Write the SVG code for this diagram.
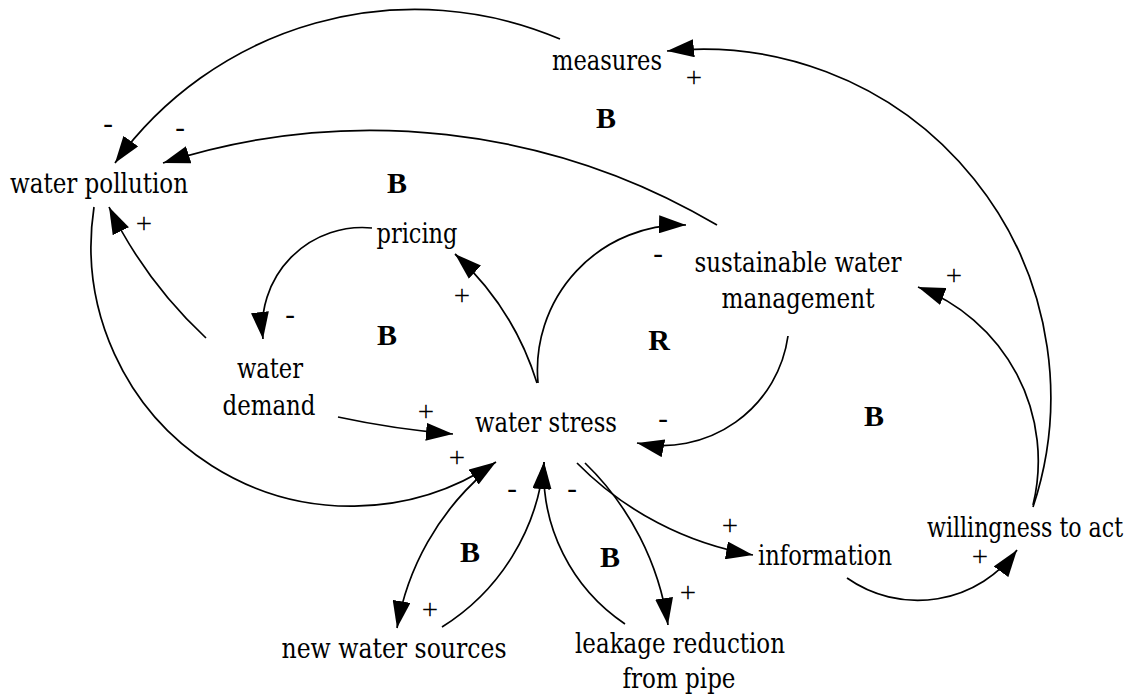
<svg xmlns="http://www.w3.org/2000/svg" width="1136" height="699" viewBox="0 0 1136 699">
  <style>
    .node { font-family: "DejaVu Serif Condensed", "DejaVu Serif", serif; font-stretch: condensed; font-size: 28px; font-weight: normal; fill: #000; text-anchor: middle; }
    .sign { font-family: "Liberation Serif", "Times New Roman", serif; font-size: 29px; font-weight: normal; fill: #000; text-anchor: middle; }
    .loop { font-family: "Liberation Serif", "Times New Roman", serif; font-size: 30px; font-weight: bold; fill: #000; text-anchor: middle; }
    .link { fill: none; stroke: #000; stroke-width: 1.7; marker-end: url(#head); }
  </style>
  <defs>
    <marker id="head" markerUnits="userSpaceOnUse" viewBox="0 0 27 18" markerWidth="27" markerHeight="18" refX="27" refY="9" orient="auto">
      <path d="M0,0 L27,9 L0,18 z" fill="#000"/>
    </marker>
  </defs>

  <rect width="1136" height="699" fill="#fff"/>

  <!-- causal links, all drawn as circular arcs -->
  <g id="links">
    <path class="link" d="M1033,507 A348,348 0 0 0 667,51"/>
    <path class="link" d="M560,39 A370,370 0 0 0 115,163"/>
    <path class="link" d="M717,225 A680,680 0 0 0 163,163"/>
    <path class="link" d="M206,338 A446,446 0 0 1 109,207"/>
    <path class="link" d="M94,207 A260,260 0 0 0 496,462"/>
    <path class="link" d="M372,228 A100,100 0 0 0 263,339"/>
    <path class="link" d="M537,383 A293,293 0 0 0 455,254"/>
    <path class="link" d="M538,383 A145,145 0 0 1 686,225"/>
    <path class="link" d="M788,336 A127,127 0 0 1 637,443"/>
    <path class="link" d="M338,417 A887,887 0 0 0 453,434"/>
    <path class="link" d="M485,472 A266,266 0 0 0 397,628"/>
    <path class="link" d="M442,627 A219,219 0 0 0 544,462"/>
    <path class="link" d="M625,624 A183,183 0 0 1 544,462"/>
    <path class="link" d="M585,463 A282,282 0 0 1 668,625"/>
    <path class="link" d="M577,463 A324,324 0 0 0 753,555"/>
    <path class="link" d="M847,578 A123,123 0 0 0 1017,550"/>
    <path class="link" d="M1033,505 A186,186 0 0 0 918,287"/>
  </g>

  <!-- link polarities -->
  <g id="polarities">
    <text class="sign" x="694" y="87">+</text>
    <text class="sign" x="108" y="133">-</text>
    <text class="sign" x="180" y="137">-</text>
    <text class="sign" x="144" y="233">+</text>
    <text class="sign" x="290" y="324">-</text>
    <text class="sign" x="462" y="305">+</text>
    <text class="sign" x="658" y="263">-</text>
    <text class="sign" x="426" y="421">+</text>
    <text class="sign" x="457" y="467">+</text>
    <text class="sign" x="663" y="428">-</text>
    <text class="sign" x="512" y="498">-</text>
    <text class="sign" x="572" y="498">-</text>
    <text class="sign" x="430" y="619">+</text>
    <text class="sign" x="688" y="602">+</text>
    <text class="sign" x="730" y="535">+</text>
    <text class="sign" x="980" y="566">+</text>
    <text class="sign" x="954" y="285">+</text>
  </g>

  <!-- loop identifiers -->
  <g id="loops">
    <text class="loop" x="606" y="128">B</text>
    <text class="loop" x="397" y="193">B</text>
    <text class="loop" x="387" y="345">B</text>
    <text class="loop" x="659" y="350">R</text>
    <text class="loop" x="874" y="426">B</text>
    <text class="loop" x="470" y="562">B</text>
    <text class="loop" x="610" y="567">B</text>
  </g>

  <!-- variables -->
  <g id="measures"><text class="node" x="607" y="70" textLength="110" lengthAdjust="spacingAndGlyphs">measures</text></g>
  <g id="water-pollution"><text class="node" x="99" y="193" textLength="178" lengthAdjust="spacingAndGlyphs">water pollution</text></g>
  <g id="pricing"><text class="node" x="417" y="243" textLength="81" lengthAdjust="spacingAndGlyphs">pricing</text></g>
  <g id="sustainable-water-management">
    <text class="node" x="798" y="272" textLength="207" lengthAdjust="spacingAndGlyphs">sustainable water</text>
    <text class="node" x="798" y="308" textLength="153" lengthAdjust="spacingAndGlyphs">management</text>
  </g>
  <g id="water-demand">
    <text class="node" x="270" y="378" textLength="66" lengthAdjust="spacingAndGlyphs">water</text>
    <text class="node" x="269" y="415" textLength="93" lengthAdjust="spacingAndGlyphs">demand</text>
  </g>
  <g id="water-stress"><text class="node" x="546" y="432" textLength="142" lengthAdjust="spacingAndGlyphs">water stress</text></g>
  <g id="new-water-sources"><text class="node" x="394" y="658" textLength="225" lengthAdjust="spacingAndGlyphs">new water sources</text></g>
  <g id="leakage-reduction">
    <text class="node" x="680" y="653" textLength="210" lengthAdjust="spacingAndGlyphs">leakage reduction</text>
    <text class="node" x="679" y="688" textLength="113" lengthAdjust="spacingAndGlyphs">from pipe</text>
  </g>
  <g id="information"><text class="node" x="825" y="565" textLength="134" lengthAdjust="spacingAndGlyphs">information</text></g>
  <g id="willingness-to-act"><text class="node" x="1025" y="537" textLength="196" lengthAdjust="spacingAndGlyphs">willingness to act</text></g>
</svg>
